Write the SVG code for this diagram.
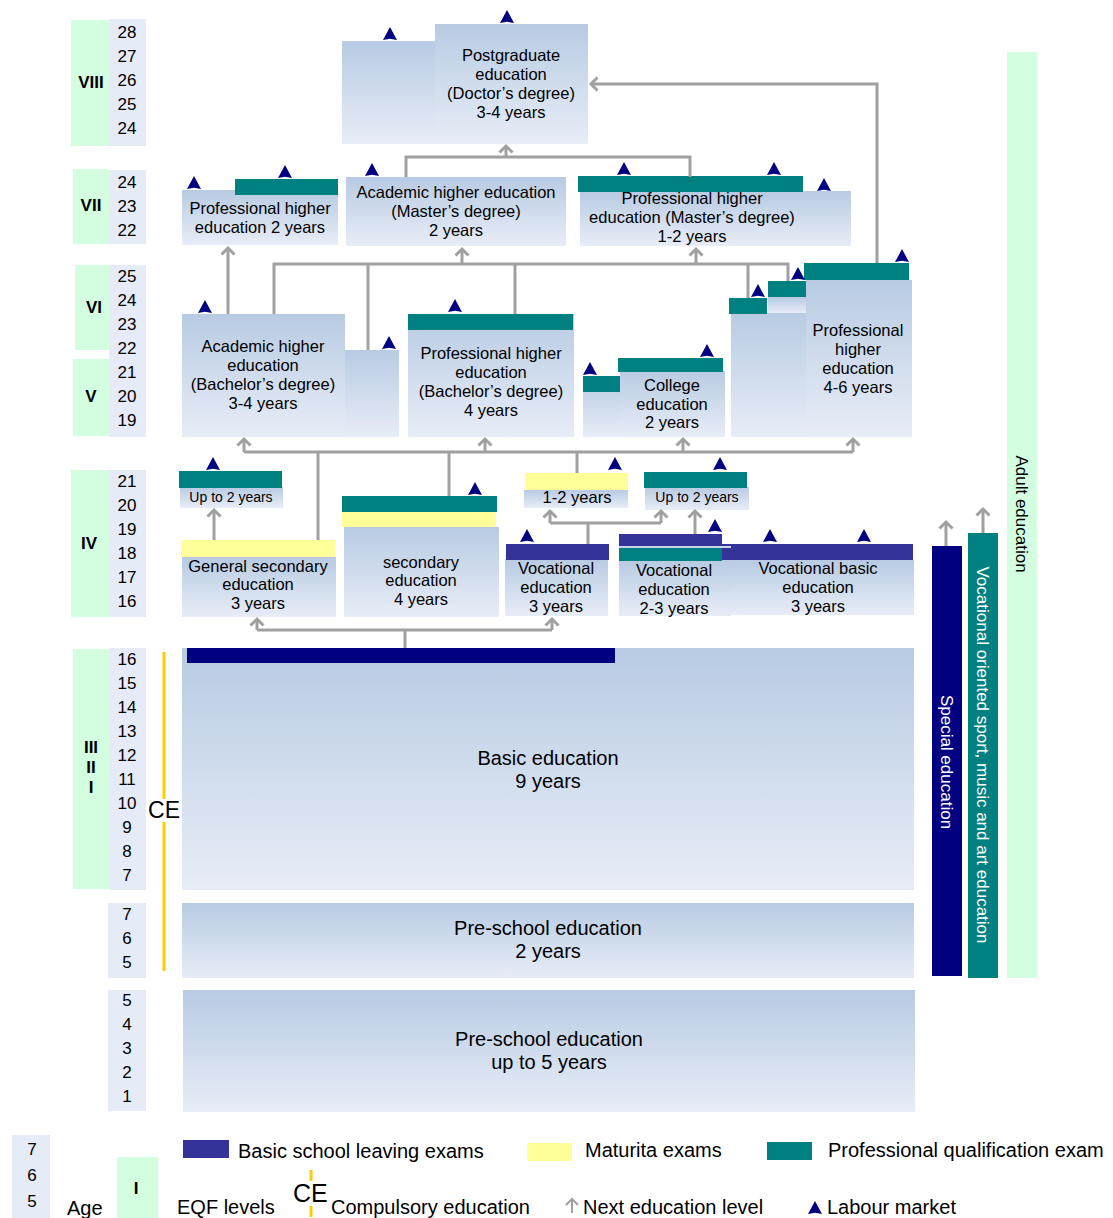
<svg xmlns="http://www.w3.org/2000/svg" width="1113" height="1218" viewBox="0 0 1113 1218">
<defs>
<linearGradient id="bg" x1="0" y1="0" x2="0" y2="1">
<stop offset="0" stop-color="#B8CBE3"/>
<stop offset="1" stop-color="#E8EDF7"/>
</linearGradient>
<marker id="ar" markerUnits="userSpaceOnUse" markerWidth="16" markerHeight="16" viewBox="-9 -8 12 16" refX="0" refY="0" orient="auto" overflow="visible">
<path d="M-6.5,-6.5 L0,0 L-6.5,6.5" fill="none" stroke="#A0A0A0" stroke-width="3"/>
</marker>
<path id="lm" d="M0,-13 L7,0 L0,-1.2 L-7,0 Z" fill="#000080"/>
<style>
.b{fill:url(#bg)}
.n{fill:#E6ECF7}
.q{fill:#D4FEE0}
.t{fill:#008080}
.y{fill:#FFFF99}
.x{fill:#333399}
.nv{fill:#000080}
text{font-family:"Liberation Sans",Arial,sans-serif;fill:#000}
.lb{font-size:16.5px;text-anchor:middle}
.sm{font-size:14px;text-anchor:middle}
.big{font-size:20px;text-anchor:middle}
.age{font-size:17px;text-anchor:middle}
.rn{font-size:17px;font-weight:bold;text-anchor:middle}
.lg{font-size:20px}
.vt{font-size:17px;text-anchor:middle}
.c{fill:none;stroke:#A0A0A0;stroke-width:3}
</style>
</defs>

<!-- Age / EQF column -->
<g id="ages">
<rect class="q" x="71" y="20" width="38" height="126"/>
<rect class="n" x="109" y="19" width="37" height="127"/>
<text class="rn" x="91" y="88">VIII</text>
<text class="age" x="127" y="38">28</text><text class="age" x="127" y="62">27</text><text class="age" x="127" y="86">26</text><text class="age" x="127" y="110">25</text><text class="age" x="127" y="134">24</text>

<rect class="q" x="73" y="169" width="36" height="75"/>
<rect class="n" x="109" y="170" width="37" height="74"/>
<text class="rn" x="91" y="211">VII</text>
<text class="age" x="127" y="188">24</text><text class="age" x="127" y="212">23</text><text class="age" x="127" y="236">22</text>

<rect class="q" x="75" y="265" width="34" height="85"/>
<rect class="q" x="73" y="359" width="36" height="77"/>
<rect class="n" x="109" y="265" width="37" height="172"/>
<text class="rn" x="94" y="313">VI</text>
<text class="rn" x="91" y="402">V</text>
<text class="age" x="127" y="282">25</text><text class="age" x="127" y="306">24</text><text class="age" x="127" y="330">23</text><text class="age" x="127" y="354">22</text><text class="age" x="127" y="378">21</text><text class="age" x="127" y="402">20</text><text class="age" x="127" y="426">19</text>

<rect class="q" x="71" y="470" width="38" height="147"/>
<rect class="n" x="109" y="470" width="37" height="147"/>
<text class="rn" x="89" y="549">IV</text>
<text class="age" x="127" y="487">21</text><text class="age" x="127" y="511">20</text><text class="age" x="127" y="535">19</text><text class="age" x="127" y="559">18</text><text class="age" x="127" y="583">17</text><text class="age" x="127" y="607">16</text>

<rect class="q" x="73" y="649" width="36" height="240"/>
<rect class="n" x="109" y="648" width="37" height="242"/>
<text class="rn" x="91" y="753">III</text>
<text class="rn" x="91" y="773">II</text>
<text class="rn" x="91" y="793">I</text>
<text class="age" x="127" y="665">16</text><text class="age" x="127" y="689">15</text><text class="age" x="127" y="713">14</text><text class="age" x="127" y="737">13</text><text class="age" x="127" y="761">12</text><text class="age" x="127" y="785">11</text><text class="age" x="127" y="809">10</text><text class="age" x="127" y="833">9</text><text class="age" x="127" y="857">8</text><text class="age" x="127" y="881">7</text>

<rect class="n" x="108" y="903" width="38" height="75"/>
<text class="age" x="127" y="920">7</text><text class="age" x="127" y="944">6</text><text class="age" x="127" y="968">5</text>

<rect class="n" x="108" y="990" width="38" height="121"/>
<text class="age" x="127" y="1006">5</text><text class="age" x="127" y="1030">4</text><text class="age" x="127" y="1054">3</text><text class="age" x="127" y="1078">2</text><text class="age" x="127" y="1102">1</text>

<line x1="164" y1="652" x2="164" y2="799" stroke="#FFCC00" stroke-width="3"/>
<line x1="164" y1="822" x2="164" y2="971" stroke="#FFCC00" stroke-width="3"/>
<text x="164" y="818" font-size="23" text-anchor="middle">CE</text>
</g>

<!-- Nodes -->
<g id="postgraduate">
<rect class="b" x="342" y="41" width="94" height="103"/>
<rect class="b" x="435" y="24" width="153" height="120"/>
<text class="lb" x="511" y="61">Postgraduate</text>
<text class="lb" x="511" y="80">education</text>
<text class="lb" x="511" y="99">(Doctor’s degree)</text>
<text class="lb" x="511" y="118">3-4 years</text>
<use href="#lm" x="507" y="23"/>
<use href="#lm" x="390" y="40"/>
</g>

<g id="prof-higher-2y">
<rect class="b" x="182" y="190" width="156" height="55"/>
<rect class="t" x="235" y="179" width="103" height="16"/>
<text class="lb" x="260" y="214">Professional higher</text>
<text class="lb" x="260" y="233">education 2 years</text>
<use href="#lm" x="194" y="189"/>
<use href="#lm" x="285" y="178"/>
</g>

<g id="academic-master">
<rect class="b" x="346" y="177" width="220" height="69"/>
<text class="lb" x="456" y="198">Academic higher education</text>
<text class="lb" x="456" y="217">(Master’s degree)</text>
<text class="lb" x="456" y="236">2 years</text>
<use href="#lm" x="372" y="176"/>
</g>

<g id="prof-master">
<rect class="b" x="580" y="191" width="271" height="55"/>
<rect class="t" x="578" y="176" width="225" height="16"/>
<text class="lb" x="692" y="204">Professional higher</text>
<text class="lb" x="692" y="223">education (Master’s degree)</text>
<text class="lb" x="692" y="242">1-2 years</text>
<use href="#lm" x="624" y="175"/>
<use href="#lm" x="774" y="175"/>
<use href="#lm" x="824" y="191"/>
</g>

<g id="academic-bachelor">
<rect class="b" x="182" y="314" width="163" height="123"/>
<rect class="b" x="345" y="350" width="54" height="87"/>
<text class="lb" x="263" y="352">Academic higher</text>
<text class="lb" x="263" y="371">education</text>
<text class="lb" x="263" y="390">(Bachelor’s degree)</text>
<text class="lb" x="263" y="409">3-4 years</text>
<use href="#lm" x="205" y="313"/>
<use href="#lm" x="389" y="349"/>
</g>

<g id="prof-bachelor">
<rect class="b" x="408" y="314" width="166" height="123"/>
<rect class="t" x="408" y="314" width="165" height="16"/>
<text class="lb" x="491" y="359">Professional higher</text>
<text class="lb" x="491" y="378">education</text>
<text class="lb" x="491" y="397">(Bachelor’s degree)</text>
<text class="lb" x="491" y="416">4 years</text>
<use href="#lm" x="455" y="312"/>
</g>

<g id="college">
<rect class="b" x="583" y="377" width="41" height="60"/>
<rect class="t" x="583" y="376" width="41" height="16"/>
<rect class="b" x="620" y="371" width="105" height="66"/>
<rect class="t" x="618" y="358" width="105" height="14"/>
<text class="lb" x="672" y="391">College</text>
<text class="lb" x="672" y="410">education</text>
<text class="lb" x="672" y="428">2 years</text>
<use href="#lm" x="590" y="375"/>
<use href="#lm" x="707" y="357"/>
</g>

<g id="prof-higher-4-6">
<rect class="b" x="731" y="313" width="75" height="124"/>
<rect class="t" x="729" y="298" width="38" height="16"/>
<rect class="b" x="768" y="297" width="38" height="16"/>
<rect class="t" x="768" y="281" width="38" height="16"/>
<rect class="b" x="806" y="280" width="106" height="157"/>
<rect class="t" x="804" y="263" width="105" height="17"/>
<text class="lb" x="858" y="336">Professional</text>
<text class="lb" x="858" y="355">higher</text>
<text class="lb" x="858" y="374">education</text>
<text class="lb" x="858" y="393">4-6 years</text>
<use href="#lm" x="758" y="297"/>
<use href="#lm" x="798" y="280"/>
<use href="#lm" x="902" y="262"/>
</g>

<g id="upto2-left">
<rect class="b" x="180" y="487" width="103" height="21"/>
<rect class="t" x="179" y="471" width="103" height="17"/>
<text class="sm" x="231" y="502">Up to  2 years</text>
<use href="#lm" x="213" y="470"/>
</g>

<g id="general-secondary">
<rect class="b" x="182" y="557" width="154" height="60"/>
<rect class="y" x="181" y="540" width="154" height="17"/>
<text class="lb" x="258" y="572">General secondary</text>
<text class="lb" x="258" y="590">education</text>
<text class="lb" x="258" y="609">3 years</text>
</g>

<g id="secondary-4y">
<rect class="b" x="344" y="527" width="155" height="90"/>
<rect class="t" x="342" y="496" width="155" height="16"/>
<rect class="y" x="342" y="512" width="154" height="15"/>
<text class="lb" x="421" y="568">secondary</text>
<text class="lb" x="421" y="586">education</text>
<text class="lb" x="421" y="605">4 years</text>
<use href="#lm" x="475" y="495"/>
</g>

<g id="one-two-years">
<rect class="b" x="524" y="490" width="104" height="18"/>
<rect class="y" x="525" y="473" width="103" height="17"/>
<text class="lb" x="577" y="503">1-2 years</text>
<use href="#lm" x="615" y="470"/>
</g>

<g id="upto2-right">
<rect class="b" x="645" y="487" width="104" height="23"/>
<rect class="t" x="644" y="472" width="103" height="16"/>
<text class="sm" x="697" y="502">Up to 2 years</text>
<use href="#lm" x="720" y="470"/>
</g>

<g id="vocational-3y">
<rect class="b" x="505" y="559" width="103" height="57"/>
<rect class="x" x="506" y="544" width="103" height="16"/>
<text class="lb" x="556" y="574">Vocational</text>
<text class="lb" x="556" y="593">education</text>
<text class="lb" x="556" y="612">3 years</text>
<use href="#lm" x="527" y="542"/>
</g>

<g id="vocational-basic">
<rect class="b" x="722" y="560" width="192" height="55"/>
<rect class="x" x="722" y="544" width="191" height="16"/>
<text class="lb" x="818" y="574">Vocational basic</text>
<text class="lb" x="818" y="593">education</text>
<text class="lb" x="818" y="612">3 years</text>
<use href="#lm" x="770" y="542"/>
<use href="#lm" x="864" y="542"/>
</g>

<g id="vocational-2-3y">
<rect class="b" x="619" y="561" width="112" height="55"/>
<rect class="x" x="619" y="534" width="103" height="13"/>
<rect x="619" y="546" width="112" height="2" fill="#C8D4EA"/>
<rect class="t" x="619" y="548" width="103" height="13"/>
<text class="lb" x="674" y="576">Vocational</text>
<text class="lb" x="674" y="595">education</text>
<text class="lb" x="674" y="614">2-3 years</text>
<use href="#lm" x="715" y="532"/>
</g>

<g id="basic-education">
<rect class="b" x="182" y="648" width="732" height="242"/>
<rect class="nv" x="187" y="648" width="428" height="15"/>
<text class="big" x="548" y="765">Basic education</text>
<text class="big" x="548" y="788">9 years</text>
</g>

<g id="preschool-2y">
<rect class="b" x="182" y="903" width="732" height="75"/>
<text class="big" x="548" y="935">Pre-school education</text>
<text class="big" x="548" y="958">2 years</text>
</g>

<g id="preschool-5y">
<rect class="b" x="183" y="990" width="732" height="122"/>
<text class="big" x="549" y="1046">Pre-school education</text>
<text class="big" x="549" y="1069">up to 5 years</text>
</g>

<g id="special-education">
<rect class="nv" x="932" y="546" width="30" height="430"/>
<text class="vt" transform="translate(941,762) rotate(90)" style="fill:#fff">Special education</text>
</g>

<g id="vocational-oriented">
<rect class="t" x="968" y="533" width="30" height="445"/>
<text class="vt" transform="translate(977,755) rotate(90)" style="fill:#fff">Vocational oriented sport, music and art education</text>
</g>

<g id="adult-education">
<rect class="q" x="1007" y="52" width="30" height="926"/>
<text class="vt" transform="translate(1016,514) rotate(90)">Adult education</text>
</g>

<!-- Connectors -->
<g id="connectors">
<path class="c" d="M877,263 V84 H591" marker-end="url(#ar)"/>
<path class="c" d="M406,177 V157 H690 V177"/>
<path class="c" d="M506,157 V146" marker-end="url(#ar)"/>
<path class="c" d="M274,314 V264 H788 V281"/>
<path class="c" d="M368,350 V264"/>
<path class="c" d="M515,314 V264"/>
<path class="c" d="M748,298 V264"/>
<path class="c" d="M462,264 V249" marker-end="url(#ar)"/>
<path class="c" d="M696,264 V249" marker-end="url(#ar)"/>
<path class="c" d="M228,314 V248" marker-end="url(#ar)"/>
<path class="c" d="M244,452 H853"/>
<path class="c" d="M318,540 V452"/>
<path class="c" d="M449,496 V452"/>
<path class="c" d="M577,473 V452"/>
<path class="c" d="M244,452 V439" marker-end="url(#ar)"/>
<path class="c" d="M485,452 V439" marker-end="url(#ar)"/>
<path class="c" d="M683,452 V439" marker-end="url(#ar)"/>
<path class="c" d="M853,452 V439" marker-end="url(#ar)"/>
<path class="c" d="M214,540 V510" marker-end="url(#ar)"/>
<path class="c" d="M550,523 H661"/>
<path class="c" d="M588,544 V523"/>
<path class="c" d="M550,523 V511" marker-end="url(#ar)"/>
<path class="c" d="M661,523 V511" marker-end="url(#ar)"/>
<path class="c" d="M695,534 V511" marker-end="url(#ar)"/>
<path class="c" d="M405,648 V630"/>
<path class="c" d="M257,630 H552"/>
<path class="c" d="M257,630 V619" marker-end="url(#ar)"/>
<path class="c" d="M552,630 V619" marker-end="url(#ar)"/>
<path class="c" d="M946,546 V522" marker-end="url(#ar)"/>
<path class="c" d="M983,533 V509" marker-end="url(#ar)"/>
</g>

<!-- Legend -->
<g id="legend">
<rect class="n" x="12" y="1135" width="38" height="83"/>
<text class="age" x="32" y="1155">7</text>
<text class="age" x="32" y="1181">6</text>
<text class="age" x="32" y="1207">5</text>
<text class="lg" x="67" y="1215">Age</text>
<rect class="q" x="117" y="1157" width="41" height="61"/>
<text class="rn" x="136" y="1194">I</text>
<text class="lg" x="177" y="1214">EQF levels</text>
<line x1="311" y1="1170" x2="311" y2="1181" stroke="#FFCC00" stroke-width="3"/>
<line x1="311" y1="1206" x2="311" y2="1217" stroke="#FFCC00" stroke-width="3"/>
<text x="293" y="1202" font-size="25">CE</text>
<text class="lg" x="331" y="1214">Compulsory education</text>
<rect class="x" x="183" y="1140" width="46" height="18"/>
<text class="lg" x="238" y="1158">Basic school leaving exams</text>
<rect class="y" x="527" y="1143" width="45" height="18"/>
<text class="lg" x="585" y="1157">Maturita exams</text>
<rect class="t" x="767" y="1142" width="45" height="18"/>
<text class="lg" x="828" y="1157">Professional qualification exam</text>
<path d="M572,1213 V1200 M566,1205 L572,1199 L578,1205" fill="none" stroke="#A0A0A0" stroke-width="2"/>
<text class="lg" x="583" y="1214">Next education level</text>
<use href="#lm" x="815" y="1214"/>
<text class="lg" x="827" y="1214">Labour market</text>
</g>
</svg>
